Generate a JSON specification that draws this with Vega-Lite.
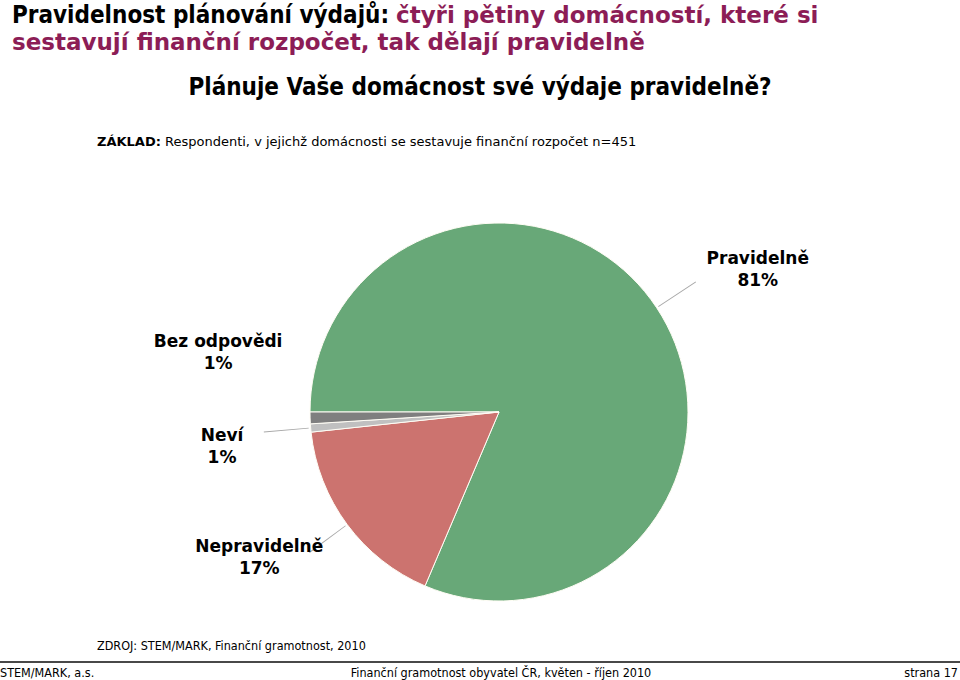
{
  "$schema": "https://vega.github.io/schema/vega-lite/v6.json",
  "padding": {"top": 4, "left": 0, "right": 0, "bottom": 0},
  "background": "white",
  "spacing": 0,
  "config": {
    "font": "DejaVu Sans",
    "view": {"stroke": null},
    "title": {"anchor": "start", "frame": "group", "offset": 0, "color": "#000000", "fontWeight": "bold", "font": "DejaVu Sans"}
  },
  "datasets": {
    "blank": [{}],
    "answers": [
      {"cat": "Pravidelně", "v": 81.4, "ord": 1},
      {"cat": "Nepravidelně", "v": 16.9, "ord": 2},
      {"cat": "Neví", "v": 0.7, "ord": 3},
      {"cat": "Bez odpovědi", "v": 1.0, "ord": 4}
    ]
  },
  "vconcat": [
    {
      "bounds": "flush",
      "spacing": 0,
      "hconcat": [
        {
          "width": 396, "height": 17,
          "data": {"name": "blank"},
          "mark": {"type": "text"},
          "encoding": {"text": {"value": ""}},
          "title": {
            "text": "Pravidelnost plánování výdajů:",
            "subtitle": "sestavují finanční rozpočet, tak dělají pravidelně",
            "fontSize": 24, "subtitleFontSize": 23, "subtitleFontWeight": "bold",
            "subtitleColor": "#8C1D56", "subtitlePadding": 4, "dx": 12,
            "font": "DejaVu Sans Condensed", "subtitleFont": "DejaVu Sans"
          }
        },
        {
          "width": 564, "height": 17,
          "data": {"name": "blank"},
          "mark": {"type": "text"},
          "encoding": {"text": {"value": ""}},
          "title": {
            "text": "čtyři pětiny domácností, které si",
            "subtitle": "\u00a0",
            "color": "#8C1D56",
            "fontSize": 23, "subtitleFontSize": 23, "subtitleFontWeight": "bold",
            "subtitlePadding": 4,
            "font": "DejaVu Sans", "subtitleFont": "DejaVu Sans"
          }
        }
      ]
    },
    {
      "width": 960, "height": 32,
      "data": {"name": "blank"},
      "mark": {"type": "text"},
      "encoding": {"text": {"value": ""}},
      "title": {"text": "Plánuje Vaše domácnost své výdaje pravidelně?", "anchor": "middle", "fontSize": 24, "font": "DejaVu Sans Condensed"}
    },
    {
      "bounds": "flush",
      "spacing": 0,
      "hconcat": [
        {
          "width": 165, "height": 32,
          "data": {"name": "blank"},
          "mark": {"type": "text"},
          "encoding": {"text": {"value": ""}},
          "title": {"text": "ZÁKLAD:", "fontSize": 13, "dx": 97}
        },
        {
          "width": 795, "height": 32,
          "data": {"name": "blank"},
          "mark": {"type": "text"},
          "encoding": {"text": {"value": ""}},
          "title": {"text": "Respondenti, v jejichž domácnosti se sestavuje finanční rozpočet n=451", "fontSize": 13, "fontWeight": "normal"}
        }
      ]
    },
    {
      "bounds": "flush",
      "spacing": 0,
      "hconcat": [
        {
          "width": 210, "height": 454,
          "data": {"name": "blank"},
          "mark": {"type": "text"},
          "encoding": {"text": {"value": ""}}
        },
        {
          "width": 578, "height": 454,
          "data": {"name": "answers"},
          "transform": [
            {"stack": "v", "groupby": [], "sort": [{"field": "ord", "order": "ascending"}], "as": ["v0", "v1"]},
            {"calculate": "(datum.v0 + datum.v1) / 2", "as": "mid"},
            {"calculate": "datum.mid - 0.035", "as": "lead0"},
            {"calculate": "datum.mid + 0.035", "as": "lead1"},
            {"calculate": "datum.cat + '\\n' + format(datum.v, '.0f') + '%'", "as": "label"}
          ],
          "layer": [
            {
              "mark": {"type": "arc", "outerRadius": 189, "stroke": "#FFFDF5", "strokeWidth": 1},
              "encoding": {
                "theta": {"field": "v0", "type": "quantitative", "scale": {"domain": [0, 100], "range": [-1.5707963, 4.712389]}},
                "theta2": {"field": "v1"},
                "color": {
                  "field": "cat", "type": "nominal",
                  "scale": {"domain": ["Pravidelně", "Nepravidelně", "Neví", "Bez odpovědi"], "range": ["#68A878", "#CC736F", "#C0C0C0", "#7F7F7F"]},
                  "legend": null
                }
              }
            },
            {
              "transform": [{"filter": "datum.cat != 'Bez odpovědi'"}],
              "mark": {"type": "arc", "innerRadius": 191, "outerRadius": 236, "color": "#A8A8A8"},
              "encoding": {
                "theta": {"field": "lead0", "type": "quantitative"},
                "theta2": {"field": "lead1"}
              }
            },
            {
              "transform": [{"filter": "datum.cat == 'Pravidelně'"}],
              "mark": {"type": "text", "radius": 300.6, "dx": 8, "dy": 13, "fontSize": 17, "fontWeight": "bold", "lineBreak": "\n", "lineHeight": 22, "color": "#000000"},
              "encoding": {"theta": {"field": "mid", "type": "quantitative"}, "text": {"field": "label"}}
            },
            {
              "transform": [{"filter": "datum.cat == 'Nepravidelně'"}],
              "mark": {"type": "text", "radius": 281, "dx": -14, "dy": -32, "fontSize": 17, "fontWeight": "bold", "lineBreak": "\n", "lineHeight": 22, "color": "#000000"},
              "encoding": {"theta": {"field": "mid", "type": "quantitative"}, "text": {"field": "label"}}
            },
            {
              "transform": [{"filter": "datum.cat == 'Neví'"}],
              "mark": {"type": "text", "radius": 279, "dx": 1, "dy": 0, "fontSize": 17, "fontWeight": "bold", "lineBreak": "\n", "lineHeight": 22, "color": "#000000"},
              "encoding": {"theta": {"field": "mid", "type": "quantitative"}, "text": {"field": "label"}}
            },
            {
              "transform": [{"filter": "datum.cat == 'Bez odpovědi'"}],
              "mark": {"type": "text", "radius": 287, "dx": 6, "dy": -79, "fontSize": 17, "fontWeight": "bold", "lineBreak": "\n", "lineHeight": 22, "color": "#000000"},
              "encoding": {"theta": {"field": "mid", "type": "quantitative"}, "text": {"field": "label"}}
            }
          ]
        }
      ]
    },
    {
      "width": 960, "height": 2,
      "data": {"name": "blank"},
      "mark": {"type": "text"},
      "encoding": {"text": {"value": ""}},
      "view": {"fill": "#484848", "stroke": null},
      "title": {"text": "ZDROJ: STEM/MARK, Finanční gramotnost, 2010", "fontSize": 12.5, "fontWeight": "normal", "dx": 97, "font": "DejaVu Sans Condensed"}
    },
    {
      "bounds": "flush",
      "spacing": 0,
      "hconcat": [
        {
          "width": 341, "height": 1,
          "data": {"name": "blank"},
          "mark": {"type": "text", "fontSize": 1},
          "encoding": {"text": {"value": ""}},
          "title": {"text": "STEM/MARK, a.s.", "orient": "bottom", "offset": -2, "fontSize": 12.5, "fontWeight": "normal", "anchor": "start", "font": "DejaVu Sans Condensed"}
        },
        {
          "width": 320, "height": 1,
          "data": {"name": "blank"},
          "mark": {"type": "text", "fontSize": 1},
          "encoding": {"text": {"value": ""}},
          "title": {"text": "Finanční gramotnost obyvatel ČR, květen - říjen 2010", "orient": "bottom", "offset": -2, "fontSize": 12.5, "fontWeight": "normal", "anchor": "middle", "font": "DejaVu Sans Condensed"}
        },
        {
          "width": 297, "height": 1,
          "data": {"name": "blank"},
          "mark": {"type": "text", "fontSize": 1},
          "encoding": {"text": {"value": ""}},
          "title": {"text": "strana 17", "orient": "bottom", "offset": -2, "fontSize": 12.5, "fontWeight": "normal", "anchor": "end", "font": "DejaVu Sans Condensed"}
        }
      ]
    }
  ]
}
